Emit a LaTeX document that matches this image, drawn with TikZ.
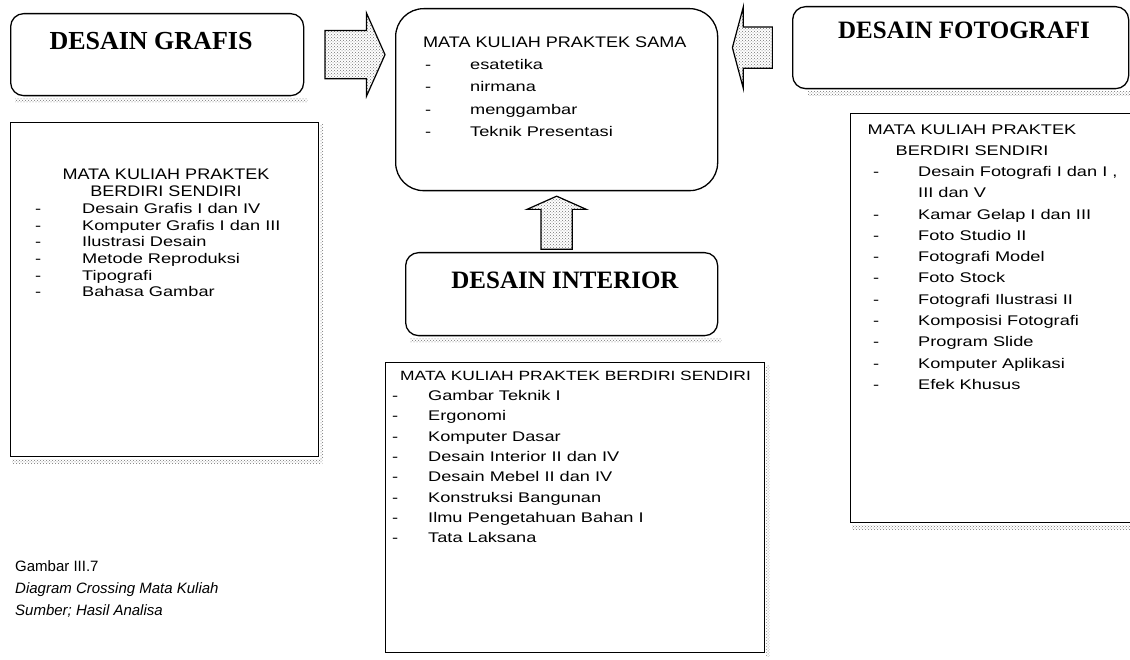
\documentclass[tikz,border=0pt]{standalone}
\usepackage{fontspec}
\setmainfont{Liberation Serif}
\newfontfamily\listfont[FakeStretch=1.3]{Liberation Sans}
\newfontfamily\titlefont[FakeStretch=1.18]{Liberation Sans}
\newfontfamily\capfont{Liberation Sans}
\usetikzlibrary{shapes.arrows,patterns,calc}

\begin{document}
\begin{tikzpicture}[x=1pt,y=-1pt,
  boxline/.style={draw=black, line width=1.3pt, inner sep=0pt, anchor=north west},
  roundbox/.style={boxline, rounded corners=13pt},
  bigbox/.style={boxline, rounded corners=28pt},
  heading/.style={font=\fontsize{25}{30}\selectfont\bfseries, inner sep=0pt},
  listtext/.style={inner sep=0pt, anchor=base west},
  titletext/.style={inner sep=0pt, anchor=base},
  blockarrow/.style={single arrow, draw=black, line width=1.2pt,
    pattern=crosshatch dots, pattern color=black!55},
  dotshade/.style={pattern=crosshatch dots, pattern color=black!55}
]
\fill[white] (0,0) rectangle (1130,660);
\useasboundingbox (0,0) rectangle (1130,660);

% ---- top row: the three departments and the shared courses
\node[roundbox, minimum width=293pt, minimum height=82pt] (grafis) at (10,13) {};
\node[heading, font=\fontsize{26}{30}\selectfont\bfseries] (grafislabel) at (151,41) {DESAIN GRAFIS};
\fill[dotshade] ($(grafis.south west)+(5,2)$) rectangle ($(grafis.south east)+(3,6)$);

\node[bigbox, minimum width=322pt, minimum height=182pt] (sama) at (395,8) {};
\node[listtext, font=\titlefont\fontsize{15.3}{22.3}\selectfont] (samatitle) at (423,48)
  {MATA KULIAH PRAKTEK SAMA};
\node[listtext, font=\listfont\fontsize{14}{22.3}\selectfont] (samalist) at (425,69.5)
  {\begin{tabular}[t]{@{}p{45pt}@{}l@{}}
   - & esatetika\\
   - & nirmana\\
   - & menggambar\\
   - & Teknik Presentasi
   \end{tabular}};

\node[roundbox, minimum width=336pt, minimum height=82pt] (foto) at (792,6) {};
\node[heading] (fotolabel) at (964,30) {DESAIN FOTOGRAFI};
\fill[dotshade] ($(foto.south west)+(16,2)$) rectangle ($(foto.south east)+(4,6)$);

% ---- block arrows towards the shared courses
\node[blockarrow, minimum height=60pt, inner xsep=0pt, inner ysep=23.5pt,
      single arrow head extend=17.5pt, single arrow tip angle=132] (arrowgrafis)
  at ($(grafis.east)!0.5!(sama.west |- grafis.east)$) {};
\node[blockarrow, minimum height=40pt, inner xsep=0pt, inner ysep=20pt,
      single arrow head extend=20pt, single arrow tip angle=150,
      shape border rotate=180] (arrowfoto)
  at ($(foto.west)!0.5!(sama.east |- foto.west)$) {};

% ---- interior department
\node[roundbox, minimum width=312pt, minimum height=83pt] (interior) at (405,252) {};
\node[heading] (interiorlabel) at (565,280) {DESAIN INTERIOR};
\fill[dotshade] ($(interior.south west)+(5,2)$) rectangle ($(interior.south east)+(3,6)$);
\node[blockarrow, minimum height=53pt, inner xsep=15pt, inner ysep=0pt,
      single arrow head extend=14pt, single arrow tip angle=132,
      shape border rotate=90] (arrowinterior)
  at ($(sama.south)!0.5!(sama.south |- interior.north)+(0,4.5)$) {};

% ---- independent courses of Desain Grafis
\node[boxline, minimum width=308pt, minimum height=334pt] (grafisbox) at (10,122) {};
\fill[dotshade] ($(grafisbox.south west)+(2,2)$) rectangle ($(grafisbox.south east)+(3,6)$);
\fill[dotshade] ($(grafisbox.north east)+(1,3)$) rectangle ($(grafisbox.south east)+(4,2)$);
\node[titletext, font=\titlefont\fontsize{15.3}{17}\selectfont] (grafistitle) at (166,180)
  {\begin{tabular}[t]{@{}c@{}}MATA KULIAH PRAKTEK\\BERDIRI SENDIRI\end{tabular}};
\node[listtext, font=\listfont\fontsize{14}{16.7}\selectfont] (grafislist) at (35,213.5)
  {\begin{tabular}[t]{@{}p{47pt}@{}l@{}}
   - & Desain Grafis I dan IV\\
   - & Komputer Grafis I dan III\\
   - & Ilustrasi Desain\\
   - & Metode Reproduksi\\
   - & Tipografi\\
   - & Bahasa Gambar
   \end{tabular}};

% ---- independent courses of Desain Interior
\node[boxline, minimum width=379pt, minimum height=290pt] (interiorbox) at (385,362) {};
\fill[dotshade] ($(interiorbox.north east)+(1,3)$) rectangle ($(interiorbox.south east)+(4,3)$);
\node[listtext, font=\listfont\fontsize{13.4}{20.3}\selectfont] (interiortitle) at (400,380.5)
  {MATA KULIAH PRAKTEK BERDIRI SENDIRI};
\node[listtext, font=\listfont\fontsize{14}{20.3}\selectfont] (interiorlist) at (392,400.5)
  {\begin{tabular}[t]{@{}p{36pt}@{}l@{}}
   - & Gambar Teknik I\\
   - & Ergonomi\\
   - & Komputer Dasar\\
   - & Desain Interior II dan IV\\
   - & Desain Mebel II dan IV\\
   - & Konstruksi Bangunan\\
   - & Ilmu Pengetahuan Bahan I\\
   - & Tata Laksana
   \end{tabular}};

% ---- independent courses of Desain Fotografi
\node[boxline, minimum width=290pt, minimum height=409pt] (fotobox) at (850,113) {};
\fill[dotshade] ($(fotobox.south west)+(2,2)$) rectangle ($(fotobox.south east)+(0,6)$);
\node[titletext, font=\listfont\fontsize{14}{21.3}\selectfont] (fototitle) at (972,134.5)
  {\begin{tabular}[t]{@{}c@{}}MATA KULIAH PRAKTEK\\BERDIRI SENDIRI\end{tabular}};
\node[listtext, font=\listfont\fontsize{14}{21.3}\selectfont] (fotolist) at (873,176.5)
  {\begin{tabular}[t]{@{}p{45pt}@{}l@{}}
   - & Desain Fotografi I dan I ,\\
     & III dan V\\
   - & Kamar Gelap I dan III\\
   - & Foto Studio II\\
   - & Fotografi Model\\
   - & Foto Stock\\
   - & Fotografi Ilustrasi II\\
   - & Komposisi Fotografi\\
   - & Program Slide\\
   - & Komputer Aplikasi\\
   - & Efek Khusus
   \end{tabular}};

% ---- figure caption
\node[listtext, font=\capfont\fontsize{15}{22}\selectfont] (caption) at (15,571)
  {\begin{tabular}[t]{@{}l@{}}
   Gambar III.7\\
   \itshape Diagram Crossing Mata Kuliah\\
   \itshape Sumber; Hasil Analisa
   \end{tabular}};
\end{tikzpicture}
\end{document}
